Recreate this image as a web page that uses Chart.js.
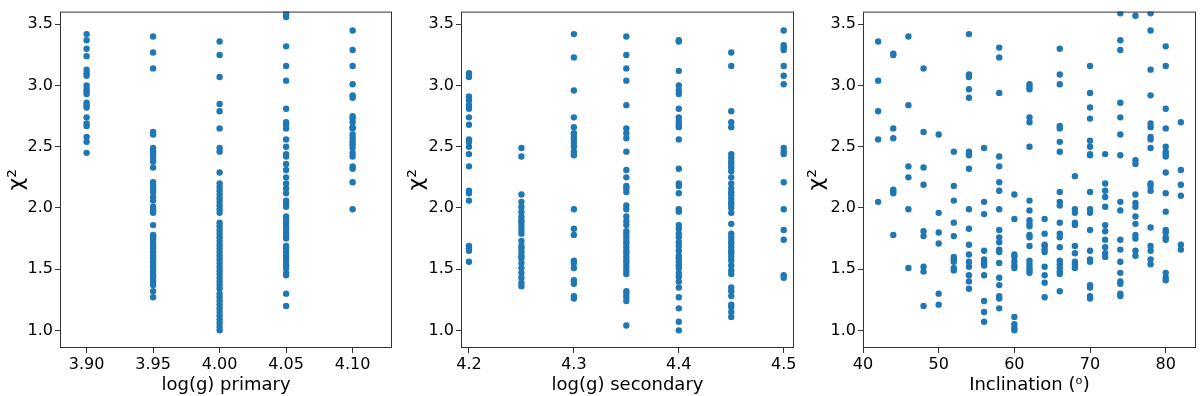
<!DOCTYPE html>
<html>
<head>
<meta charset="utf-8">
<script src="https://cdn.jsdelivr.net/npm/chart.js@4/dist/chart.umd.min.js"></script>
<style>
  body { margin: 0; background: #fff; }
  .wrap { display: flex; width: 1200px; height: 396px; }
  .wrap canvas { display: block; }
</style>
</head>
<body>
<div class="wrap">
  <canvas id="c1" width="400" height="396"></canvas>
  <canvas id="c2" width="400" height="396"></canvas>
  <canvas id="c3" width="400" height="396"></canvas>
</div>
<script>
// chi^2 values, grouped by x value
const yTicks = [1.0, 1.5, 2.0, 2.5, 3.0, 3.5];

// panel 1: log(g) primary
const primaryTicks = [3.90, 3.95, 4.00, 4.05, 4.10];
const primaryChi = {
  3.90: [3.42, 3.37, 3.30, 3.24, 3.13, 3.10, 3.08, 3.00, 2.97, 2.95, 2.93, 2.86, 2.84, 2.82, 2.74, 2.69, 2.67, 2.58, 2.54, 2.45],
  3.95: [3.40, 3.27, 3.14, 2.62, 2.60, 2.49, 2.46, 2.44, 2.41, 2.38, 2.33, 2.21, 2.18, 2.16, 2.13, 2.09, 2.06, 2.01, 1.98, 1.96,
         1.86, 1.78, 1.77, 1.75, 1.72, 1.69, 1.67, 1.64, 1.61, 1.59, 1.56, 1.53, 1.51, 1.48, 1.45, 1.43, 1.40, 1.37, 1.32, 1.27],
  4.00: [3.36, 3.25, 3.07, 2.85, 2.79, 2.65, 2.49, 2.46, 2.29, 2.20, 2.17, 2.14, 2.11, 2.08, 2.05, 2.02, 1.99, 1.96, 1.88,
         1.85, 1.82, 1.79, 1.76, 1.73, 1.70, 1.67, 1.64, 1.61, 1.58, 1.55, 1.52, 1.49, 1.46, 1.43, 1.40, 1.37, 1.34, 1.30,
         1.27, 1.24, 1.21, 1.18, 1.15, 1.12, 1.09, 1.06, 1.03, 1.00],
  4.05: [3.60, 3.58, 3.56, 3.32, 3.16, 3.04, 2.81, 2.70, 2.68, 2.65, 2.56, 2.50, 2.44, 2.42, 2.36, 2.31, 2.25, 2.20, 2.16, 2.12,
         2.06, 2.04, 2.01, 1.93, 1.91, 1.88, 1.85, 1.83, 1.80, 1.77, 1.75, 1.69, 1.67, 1.64, 1.61, 1.59, 1.56, 1.53, 1.51, 1.47,
         1.45, 1.30, 1.20],
  4.10: [3.45, 3.29, 3.16, 3.01, 2.92, 2.90, 2.75, 2.73, 2.70, 2.66, 2.65, 2.60, 2.57, 2.54, 2.52, 2.49, 2.45, 2.42, 2.34, 2.32, 2.21, 1.99]
};

// panel 2: log(g) secondary
const secondaryTicks = [4.2, 4.3, 4.4, 4.5];
const secondaryChi = {
  4.20: [3.10, 3.07, 2.91, 2.88, 2.84, 2.81, 2.74, 2.68, 2.56, 2.54, 2.50, 2.44, 2.34, 2.14, 2.12, 2.06, 1.69, 1.67, 1.65, 1.56],
  4.25: [2.49, 2.42, 2.11, 2.05, 2.01, 1.97, 1.93, 1.90, 1.88, 1.85, 1.82, 1.79, 1.73, 1.69, 1.67, 1.64, 1.61, 1.59, 1.55, 1.51,
         1.47, 1.43, 1.39, 1.36],
  4.30: [3.42, 3.23, 2.96, 2.74, 2.66, 2.61, 2.58, 2.56, 2.53, 2.50, 2.46, 2.43, 1.99, 1.83, 1.78, 1.57, 1.55, 1.51, 1.41, 1.38,
         1.28, 1.26],
  4.35: [3.40, 3.25, 3.14, 3.04, 2.84, 2.65, 2.61, 2.57, 2.46, 2.31, 2.25, 2.18, 2.16, 2.13, 2.02, 1.99, 1.93, 1.89, 1.86, 1.81,
         1.79, 1.76, 1.73, 1.71, 1.68, 1.65, 1.63, 1.60, 1.57, 1.55, 1.52, 1.49, 1.46, 1.32, 1.30, 1.27, 1.24, 1.04],
  4.40: [3.37, 3.36, 3.12, 3.00, 2.96, 2.93, 2.81, 2.74, 2.71, 2.68, 2.66, 2.56, 2.32, 2.20, 2.18, 2.12, 1.99, 1.97, 1.86, 1.83,
         1.79, 1.76, 1.72, 1.69, 1.65, 1.61, 1.59, 1.56, 1.53, 1.51, 1.47, 1.44, 1.40, 1.35, 1.27, 1.18, 1.07, 1.00],
  4.45: [3.27, 3.16, 2.79, 2.70, 2.66, 2.44, 2.41, 2.38, 2.36, 2.33, 2.30, 2.25, 2.20, 2.16, 2.13, 2.11, 2.08, 2.05, 2.03, 2.00,
         1.96, 1.87, 1.79, 1.76, 1.73, 1.71, 1.68, 1.65, 1.63, 1.60, 1.57, 1.53, 1.49, 1.46, 1.35, 1.32, 1.28, 1.21, 1.19, 1.15, 1.11],
  4.50: [3.45, 3.33, 3.31, 3.29, 3.16, 3.08, 3.01, 2.49, 2.46, 2.44, 2.21, 1.99, 1.82, 1.74, 1.45, 1.43]
};

// panel 3: inclination (deg)
const inclTicks = [40, 50, 60, 70, 80];
const inclChi = {
  42: [3.36, 3.04, 2.79, 2.56, 2.05],
  44: [3.26, 3.25, 2.65, 2.57, 2.15, 2.14, 2.12, 1.78],
  46: [3.40, 2.84, 2.34, 2.25, 1.99, 1.51],
  48: [3.14, 2.62, 2.33, 2.19, 1.81, 1.77, 1.52, 1.48, 1.20],
  50: [2.60, 1.96, 1.80, 1.71, 1.30, 1.21],
  52: [2.46, 2.18, 2.06, 1.88, 1.77, 1.60, 1.58, 1.56, 1.51, 1.49],
  54: [3.42, 3.09, 3.07, 2.97, 2.90, 2.46, 2.44, 2.43, 2.32, 1.99, 1.83, 1.70, 1.62, 1.56, 1.52, 1.45, 1.40, 1.34],
  56: [2.49, 2.05, 1.95, 1.65, 1.58, 1.55, 1.53, 1.45, 1.24, 1.15, 1.07],
  58: [3.31, 3.23, 2.94, 2.42, 2.34, 2.21, 2.14, 1.99, 1.82, 1.76, 1.72, 1.66, 1.64, 1.55, 1.43, 1.37, 1.28, 1.26, 1.18],
  60: [2.11, 1.91, 1.62, 1.60, 1.56, 1.53, 1.51, 1.11, 1.05, 1.02, 1.00],
  62: [3.01, 2.99, 2.97, 2.74, 2.70, 2.50, 2.06, 1.98, 1.90, 1.87, 1.85, 1.78, 1.76, 1.69, 1.57, 1.54, 1.51, 1.49, 1.47],
  64: [1.91, 1.79, 1.70, 1.69, 1.66, 1.64, 1.52, 1.45, 1.39, 1.27],
  66: [3.30, 3.09, 3.01, 2.67, 2.65, 2.54, 2.46, 2.13, 2.05, 2.02, 1.88, 1.79, 1.76, 1.68, 1.57, 1.54, 1.51, 1.48, 1.46, 1.32],
  68: [2.26, 1.99, 1.96, 1.88, 1.86, 1.69, 1.63, 1.56, 1.54, 1.51],
  70: [3.16, 2.94, 2.82, 2.73, 2.55, 2.50, 2.44, 2.43, 2.13, 1.99, 1.96, 1.82, 1.65, 1.58, 1.56, 1.37, 1.35, 1.28, 1.26],
  72: [2.44, 2.20, 2.14, 2.09, 2.01, 1.86, 1.81, 1.74, 1.68, 1.63, 1.60],
  74: [3.59, 3.37, 3.29, 2.86, 2.74, 2.60, 2.43, 2.05, 1.98, 1.74, 1.66, 1.56, 1.47, 1.40, 1.38, 1.30, 1.28],
  76: [3.57, 2.39, 2.36, 2.11, 2.04, 2.01, 1.93, 1.87, 1.78, 1.75, 1.65, 1.61],
  78: [3.59, 3.45, 3.13, 2.92, 2.69, 2.66, 2.58, 2.56, 2.49, 2.20, 2.18, 2.14, 1.84, 1.69, 1.65, 1.58, 1.54],
  80: [3.32, 3.16, 2.81, 2.65, 2.50, 2.46, 2.44, 2.42, 2.29, 2.12, 1.97, 1.82, 1.80, 1.76, 1.74, 1.47, 1.43, 1.41],
  82: [2.70, 2.31, 2.19, 2.10, 1.70, 1.66]
};

const BLUE = '#1f77b4';
const AXIS = '#333';
const FONT = 'DejaVu Sans';

function toPoints(groups) {
  const pts = [];
  for (const k of Object.keys(groups)) {
    groups[k].forEach(v => pts.push({ x: parseFloat(k), y: v }));
  }
  return pts;
}

// draw the full box around the plot area like matplotlib spines
const frame = {
  id: 'frame',
  afterDraw(chart) {
    const a = chart.chartArea, ctx = chart.ctx;
    ctx.save();
    ctx.strokeStyle = AXIS;
    ctx.lineWidth = 1;
    ctx.strokeRect(a.left + 0.5, a.top + 0.5, a.right - a.left - 1, a.bottom - a.top - 1);
    ctx.restore();
  }
};

function makeChart(id, groups, xTicks, xMin, xMax, xDec, xTitle, yWidth, padRight) {
  new Chart(document.getElementById(id), {
    type: 'scatter',
    data: {
      datasets: [{
        data: toPoints(groups),
        backgroundColor: BLUE,
        borderColor: BLUE,
        pointRadius: 3.2,
        pointBorderWidth: 0,
        clip: 0
      }]
    },
    options: {
      responsive: false,
      animation: false,
      layout: { padding: { top: 4, right: padRight, left: 0, bottom: 0 } },
      plugins: { legend: { display: false }, tooltip: { enabled: false } },
      scales: {
        x: {
          type: 'linear',
          min: xMin, max: xMax,
          afterBuildTicks: s => { s.ticks = xTicks.map(v => ({ value: v })); },
          afterFit: s => { s.height = 48; },
          grid: { drawOnChartArea: false, drawTicks: true, tickLength: 5, color: AXIS },
          border: { display: false },
          ticks: {
            color: '#000', padding: 2, maxRotation: 0,
            font: { family: FONT, size: 16 },
            callback: v => xDec == null ? String(v) : Number(v).toFixed(xDec)
          },
          title: { display: true, text: xTitle, color: '#000', padding: { top: 0, bottom: 0 },
                   font: { family: FONT, size: 18 } }
        },
        y: {
          min: 0.856, max: 3.604,
          afterBuildTicks: s => { s.ticks = yTicks.map(v => ({ value: v })); },
          afterFit: s => { s.width = yWidth; },
          grid: { drawOnChartArea: false, drawTicks: true, tickLength: 5, color: AXIS },
          border: { display: false },
          ticks: {
            color: '#000', padding: 2,
            font: { family: FONT, size: 16 },
            callback: v => Number(v).toFixed(1)
          },
          title: { display: true, text: 'χ²', color: '#000', padding: { top: 4, bottom: 0 },
                   font: { family: FONT, size: 22 } }
        }
      }
    },
    plugins: [frame]
  });
}

makeChart('c1', primaryChi, primaryTicks, 3.880, 4.1296, 2, 'log(g) primary', 60, 8);
makeChart('c2', secondaryChi, secondaryTicks, 4.1924, 4.5098, 1, 'log(g) secondary', 61, 6);
makeChart('c3', inclChi, inclTicks, 40, 84, null, 'Inclination (ᵒ)', 63, 4);
</script>
</body>
</html>
